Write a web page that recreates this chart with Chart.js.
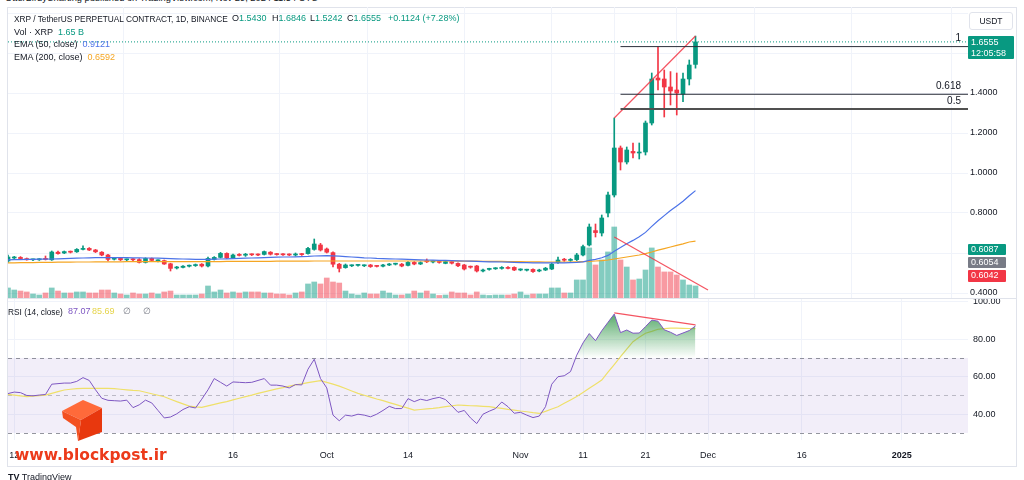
<!DOCTYPE html>
<html>
<head>
<meta charset="utf-8">
<title>XRP / TetherUS PERPETUAL CONTRACT, 1D</title>
<script src="https://cdn.jsdelivr.net/npm/chart.js@4.4.0/dist/chart.umd.min.js"></script>
<style>
  html, body { margin: 0; padding: 0; background: #fff; }
  body { position: relative; width: 1024px; height: 480px; overflow: hidden;
         font-family: "Liberation Sans", Arial, sans-serif; font-size: 9px; color: #131722; }
  canvas { position: absolute; left: 0; }
  #priceChart { top: 7px; }
  #rsiChart { top: 298px; }
  .abs { position: absolute; white-space: nowrap; }
  .frame { left: 7px; top: 7px; width: 1010px; height: 460px; border: 1px solid #e0e3eb; box-sizing: border-box; }
  .sep { left: 8px; top: 298px; width: 1008px; height: 1px; background: #e0e3eb; }
  .leg { left: 14px; line-height: 11px; }
  .g { color: #089981; }
  .tag { left: 968px; color: #fff; line-height: 11px; padding-left: 3px; box-sizing: border-box; border-radius: 1px; }
  .wm { left: 15px; top: 446px; font-family: "DejaVu Sans", Verdana, sans-serif; font-weight: bold; font-size: 15.5px; color: #ec3a1a; }
</style>
</head>
<body>
<div class="abs frame"></div>
<div class="abs" style="left:5px;top:-7px;font-size:9.3px;">OtterBirdyCharting published on TradingView.com, Nov 29, 2024 11:54 UTC</div>

<canvas id="priceChart" width="1016" height="291"></canvas>
<canvas id="rsiChart" width="1016" height="168"></canvas>
<div class="abs sep"></div>

<div class="abs leg" style="top:13.5px;font-size:8.3px">XRP / TetherUS PERPETUAL CONTRACT, 1D, BINANCE</div>
<div class="abs leg" style="left:232px;top:13px">O<span class="g">1.5430</span></div>
<div class="abs leg" style="left:272px;top:13px">H<span class="g">1.6846</span></div>
<div class="abs leg" style="left:310px;top:13px">L<span class="g">1.5242</span></div>
<div class="abs leg" style="left:347px;top:13px">C<span class="g">1.6555</span></div>
<div class="abs leg g" style="left:388px;top:13px">+0.1124 (+7.28%)</div>
<div class="abs leg" style="top:27px">Vol · XRP&nbsp;&nbsp;<span class="g">1.65 B</span></div>
<div class="abs leg" style="top:39px">EMA (50, close)&nbsp;&nbsp;<span style="color:#4c73e8">0.9121</span></div>
<div class="abs leg" style="top:51.5px">EMA (200, close)&nbsp;&nbsp;<span style="color:#f5a623">0.6592</span></div>
<div class="abs leg" style="left:8px;top:306.5px;font-size:8.3px">RSI (14, close)</div>
<div class="abs leg" style="left:68px;top:306px;color:#7e57c2">87.07</div>
<div class="abs leg" style="left:92px;top:306px;color:#e6d44a">85.69</div>
<div class="abs leg" style="left:123px;top:306px;color:#787b86">∅</div>
<div class="abs leg" style="left:143px;top:306px;color:#787b86">∅</div>

<div class="abs" style="left:969px;top:12px;width:44px;height:18px;border:1px solid #e0e3eb;border-radius:3px;box-sizing:border-box;text-align:center;line-height:16px;font-size:8.5px;">USDT</div>
<div class="abs tag" style="top:36px;width:46px;height:23px;background:#089981;padding-top:1px;">1.6555<br>12:05:58</div>
<div class="abs tag" style="top:244px;width:38px;height:11px;background:#089981;">0.6087</div>
<div class="abs tag" style="top:256.5px;width:38px;height:11.5px;background:#787b86;">0.6054</div>
<div class="abs tag" style="top:269.5px;width:38px;height:12px;background:#f23645;">0.6042</div>

<svg class="abs" style="left:0;top:0" width="1024" height="480">
  <polygon points="62,411 83,400 102,408 81,420" fill="#ff6a3a"/>
  <polygon points="81,420 102,408 102,432 78,441" fill="#e8380e"/>
  <polygon points="62,411 81,420 78,441 76,427 63,418" fill="#f35020"/>
</svg>
<div class="abs wm">www.blockpost.ir</div>
<div class="abs" style="left:8px;top:472px;font-size:9px;"><b>TV</b> TradingView</div>

<script>
// time axis: day index 0 = Aug 11 2024, 110 = Nov 29 2024
const tickDays = [1, 36, 51, 64, 82, 92, 102, 112, 127, 143];
const tickText = ['12', '16', 'Oct', '14', 'Nov', '11', '21', 'Dec', '16', '2025'];
const X_MAX = 153.6;

const opens = [
  .560,.575,.578,.572,.566,.566,.569,.566,.604,.600,
  .606,.606,.618,.623,.615,.604,.590,.569,.573,.566,
  .568,.567,.553,.573,.561,.562,.546,.525,.528,.534,
  .537,.544,.535,.568,.578,.598,.576,.593,.589,.592,
  .592,.593,.604,.594,.593,.592,.590,.594,.597,.618,
  .640,.620,.602,.544,.527,.536,.538,.536,.540,.535,
  .534,.540,.544,.544,.538,.553,.545,.558,.555,.557,
  .548,.557,.548,.540,.531,.535,.510,.518,.521,.523,
  .528,.528,.515,.514,.518,.510,.515,.520,.552,.566,
  .563,.567,.590,.640,.712,.700,.800,.890,1.125,1.055,
  1.108,1.100,1.105,1.25,1.475,1.47,1.43,1.415,1.395,1.47,1.543
];
const highs = [
  .590,.583,.582,.575,.570,.572,.585,.610,.609,.610,
  .610,.622,.636,.627,.618,.607,.593,.577,.576,.570,
  .572,.572,.576,.575,.566,.565,.549,.533,.537,.540,
  .545,.547,.580,.582,.603,.601,.594,.597,.598,.596,
  .596,.610,.607,.598,.597,.596,.600,.598,.628,.670,
  .648,.625,.606,.548,.545,.541,.543,.541,.543,.538,
  .543,.548,.549,.548,.557,.557,.556,.570,.561,.562,
  .561,.561,.551,.543,.535,.538,.520,.524,.527,.532,
  .532,.531,.521,.519,.521,.519,.528,.550,.580,.573,
  .572,.598,.640,.745,.745,.790,.905,1.275,1.135,1.13,
  1.15,1.15,1.26,1.50,1.63,1.515,1.507,1.50,1.50,1.565,1.6846
];
const lows = [
  .553,.572,.570,.564,.562,.563,.565,.563,.594,.597,
  .600,.603,.615,.612,.602,.586,.560,.565,.562,.560,
  .562,.550,.550,.560,.555,.543,.510,.520,.525,.530,
  .533,.530,.530,.565,.575,.572,.573,.585,.583,.587,
  .587,.590,.590,.589,.588,.587,.585,.588,.594,.614,
  .610,.600,.530,.505,.524,.532,.534,.532,.528,.530,
  .531,.537,.540,.531,.535,.541,.542,.552,.551,.549,
  .546,.545,.532,.515,.524,.505,.506,.514,.518,.519,
  .520,.512,.511,.510,.503,.506,.512,.517,.548,.558,
  .558,.562,.585,.635,.680,.685,.780,.880,1.015,1.045,
  1.075,1.07,1.09,1.24,1.415,1.28,1.34,1.29,1.357,1.44,1.5242
];
const closes = [
  .580,.580,.572,.566,.567,.569,.568,.605,.597,.607,
  .604,.618,.623,.615,.606,.590,.568,.573,.566,.567,
  .566,.553,.573,.563,.563,.545,.523,.530,.534,.537,
  .542,.535,.573,.578,.598,.576,.590,.588,.591,.591,
  .590,.607,.594,.592,.591,.590,.592,.592,.623,.645,
  .615,.604,.544,.523,.540,.538,.540,.538,.532,.533,
  .540,.545,.546,.535,.553,.545,.552,.556,.557,.553,
  .557,.549,.536,.520,.529,.510,.515,.520,.523,.528,
  .523,.515,.517,.515,.507,.515,.524,.544,.565,.564,
  .566,.590,.632,.730,.702,.775,.890,1.125,1.055,1.115,
  1.100,1.105,1.25,1.47,1.465,1.43,1.41,1.40,1.47,1.54,1.6555
];
// volume in billions XRP
const volumes = [
  1.38,1.10,.96,.83,.55,.41,.69,1.38,.96,.69,
  .69,.83,.83,.69,.69,1.10,1.10,.69,.55,.41,
  .69,.55,.55,.69,.55,.83,.96,.41,.41,.41,
  .41,.55,1.65,.83,1.10,.69,.83,.69,.83,.83,
  .83,.69,.69,.55,.55,.41,.69,.83,1.93,2.20,
  1.93,2.75,2.20,2.06,.96,.55,.41,.69,.55,.55,
  .96,.69,.41,.41,.55,.96,.69,.96,.55,.35,
  .41,.83,.69,.69,.41,.83,.41,.35,.41,.41,
  .41,.55,.83,.41,.55,.55,.55,1.38,1.38,.69,
  .69,2.48,2.48,6.88,4.54,5.23,6.33,9.76,5.23,4.26,
  2.48,2.61,3.85,6.88,4.26,3.58,3.58,3.16,2.48,1.79,1.65
];
const ema50 = [
  .566,.567,.567,.568,.568,.569,.569,.570,.571,.572,
  .573,.574,.575,.576,.577,.577,.577,.577,.577,.577,
  .576,.576,.575,.575,.574,.573,.572,.571,.570,.569,
  .568,.568,.568,.569,.570,.571,.572,.573,.574,.575,
  .576,.577,.578,.579,.580,.580,.581,.582,.583,.585,
  .586,.587,.586,.584,.582,.580,.578,.576,.575,.573,
  .572,.571,.570,.569,.568,.567,.566,.565,.564,.563,
  .563,.562,.561,.560,.559,.558,.557,.556,.556,.555,
  .554,.553,.552,.552,.551,.551,.551,.551,.551,.551,
  .552,.553,.556,.563,.568,.576,.588,.609,.627,.646,
  .663,.681,.703,.733,.761,.787,.812,.835,.859,.886,.912
];
const ema200 = [
  .551,.551,.552,.552,.552,.553,.553,.553,.554,.554,
  .554,.555,.555,.555,.556,.556,.556,.556,.556,.557,
  .557,.557,.557,.557,.557,.557,.557,.557,.557,.557,
  .557,.557,.557,.557,.557,.558,.558,.558,.558,.558,
  .558,.558,.558,.559,.559,.559,.559,.559,.559,.560,
  .560,.560,.560,.560,.560,.560,.560,.560,.560,.560,
  .560,.560,.560,.560,.560,.560,.560,.560,.560,.560,
  .560,.560,.559,.559,.559,.559,.558,.558,.558,.558,
  .557,.557,.557,.556,.556,.556,.555,.555,.555,.555,
  .555,.556,.557,.558,.560,.562,.565,.570,.575,.580,
  .585,.590,.597,.605,.614,.622,.630,.638,.646,.655,.659
];
const rsi = [
  51,51.8,51.5,50,49.8,50.2,50.5,56,56.3,56.6,
  56.6,57.5,59.5,58,53,48.5,47.4,47.2,47,47.5,
  43.5,45,47.5,46,42,38,38.5,40.2,42.5,44,
  43.3,48,53,59,57,55,57.2,57,56.8,57,
  58,59,55.5,55.5,55,54,55.8,55.6,64,69.3,
  59,54,39.5,36.5,39.5,39,40,39.5,38.6,40,
  42,44.2,43,43,48.3,46.7,48,47.3,48.3,49,
  47.8,44.5,41,42,38,35,40,41.6,43,46.5,
  44,40.5,41,39.5,38.2,39,44,56,60,60.5,
  62.7,71.5,78,83,79.2,84.5,89,93.4,83.5,84.9,
  83.2,83.3,86.7,90.2,89.6,85,83.7,82,83.3,84.6,87.07
];
const rsiMa = [
  50.6,50.2,49.8,49.4,49.6,49.9,50.2,51.1,52,52.9,
  53.3,53.6,53.8,53.8,53.8,53.8,53.8,53.6,53.3,53,
  52.7,52.5,51.7,50.9,50.1,49.3,48,46.7,45.5,44.3,
  43.9,43.6,44.4,45.2,46,46.7,47.6,48.5,49.4,50.2,
  51.1,51.9,52.7,53.5,54.2,55,55.6,56.2,56.8,57.4,
  57.9,57,56,55,53.7,52.4,51.1,50.1,49.1,48.1,
  47.2,46.2,45.2,44.2,43.2,42.2,42.5,42.8,43.1,43.5,
  44,44.4,44.9,44.7,44.5,44.4,44.2,44,43.5,43.1,
  42.6,42.2,41.7,41.3,40.8,40.4,41.5,42.8,44,45.8,
  47.6,49.4,51.6,53.8,56,58.2,62.4,66.5,70.7,74.7,
  78.7,81,83.2,84.2,85.3,85.6,85.9,85.9,85.8,85.7,85.69
];

// drawings
const fibLevels = [1, 0.618, 0.5];
const fibText = ['1', '0.618', '0.5'];
const fibHigh = 1.632, fibLow = 1.008, fibStartDay = 98;
const lastPrice = 1.6555;
const priceTrend = [[97, 1.275], [110, 1.685]];
const volTrend = [[97, 0.68], [112, 0.415]];
const rsiTrend = [[97, 94], [110, 87.6]];

const FONT = '"Liberation Sans", Arial, sans-serif';
Chart.defaults.font.family = FONT;
Chart.defaults.font.size = 9;
Chart.defaults.color = '#131722';

const UP = '#089981', DOWN = '#f23645';
const UP_VOL = 'rgba(8,153,129,0.5)', DOWN_VOL = 'rgba(242,54,69,0.5)';
const GRID = '#f0f3fa';
const days = opens.map((_, i) => i);
const isUp = (i) => closes[i] >= opens[i];
const series = (arr) => arr.map((v, i) => ({ x: i, y: v }));
const seg = (pts) => pts.map(([x, y]) => ({ x, y }));
const fibPrice = (lvl) => fibLow + lvl * (fibHigh - fibLow);

const lineDs = (data, color, width, extra) => Object.assign({
  type: 'line', data, borderColor: color, borderWidth: width,
  pointRadius: 0, tension: 0, fill: false
}, extra || {});

const xTicks = (s) => { s.ticks = tickDays.map((v) => ({ value: v })); };

const fibLabels = {
  id: 'fibLabels',
  afterDatasetsDraw(chart) {
    const { ctx, chartArea, scales: { y } } = chart;
    ctx.save();
    ctx.font = '10px ' + FONT;
    ctx.fillStyle = '#131722';
    ctx.textAlign = 'right';
    ctx.textBaseline = 'bottom';
    fibLevels.forEach((lvl, k) => {
      ctx.fillText(fibText[k], chartArea.right - 7, y.getPixelForValue(fibPrice(lvl)) - 3);
    });
    ctx.restore();
  }
};

new Chart(document.getElementById('priceChart'), {
  type: 'bar',
  data: {
    datasets: [
      ...fibLevels.map((lvl, k) => lineDs(
        [{ x: fibStartDay, y: fibPrice(lvl) }, { x: X_MAX, y: fibPrice(lvl) }],
        k === 2 ? '#505050' : '#2a2e39', k === 2 ? 2 : 1)),
      lineDs(seg(priceTrend), 'rgba(242,54,69,0.85)', 1.2),
      lineDs(seg(volTrend), 'rgba(242,54,69,0.85)', 1.2),
      lineDs([{ x: 0, y: lastPrice }, { x: X_MAX, y: lastPrice }], UP, 1, { borderDash: [1, 2] }),
      lineDs(series(ema50), '#4c73e8', 1.2),
      lineDs(series(ema200), '#f5a623', 1.2),
      {
        type: 'bar', grouped: false, barThickness: 4, minBarLength: 1, borderWidth: 0,
        data: days.map((i) => ({ x: i, y: [opens[i], closes[i]] })),
        backgroundColor: days.map((i) => isUp(i) ? UP : DOWN)
      },
      {
        type: 'bar', grouped: false, barThickness: 1, borderWidth: 0,
        data: days.map((i) => ({ x: i, y: [lows[i], highs[i]] })),
        backgroundColor: days.map((i) => isUp(i) ? UP : DOWN)
      },
      {
        type: 'bar', grouped: false, barThickness: 5, borderWidth: 0, yAxisID: 'yv',
        data: series(volumes),
        backgroundColor: days.map((i) => isUp(i) ? UP_VOL : DOWN_VOL)
      }
    ]
  },
  options: {
    responsive: false, animation: false, events: [],
    layout: { padding: { left: 8, right: 0, top: 0, bottom: 0 } },
    plugins: { legend: { display: false }, tooltip: { enabled: false } },
    scales: {
      x: {
        type: 'linear', min: 0, max: X_MAX, offset: false,
        afterBuildTicks: xTicks,
        afterFit: (s) => { s.height = 0; s.paddingLeft = 0; s.paddingRight = 0; },
        ticks: { display: false },
        grid: { color: GRID, drawTicks: false },
        border: { display: false }
      },
      y: {
        position: 'right', min: 0.375, max: 1.83,
        afterFit: (s) => { s.width = 48; s.paddingTop = 0; s.paddingBottom = 0; },
        ticks: {
          stepSize: 0.2, includeBounds: false, padding: 2,
          callback: (v) => (Math.abs(v - 1.8) < 1e-6 ? '' : Number(v).toFixed(4))
        },
        grid: { color: GRID, drawTicks: false },
        border: { display: false }
      },
      yv: { display: false, min: 0, max: 40 }
    }
  },
  plugins: [fibLabels]
});

const rsiBand = {
  id: 'rsiBand',
  beforeDatasetsDraw(chart) {
    const { ctx, chartArea: a, scales: { y } } = chart;
    const top = y.getPixelForValue(70), bot = y.getPixelForValue(30);
    ctx.save();
    ctx.fillStyle = 'rgba(126,87,194,0.1)';
    ctx.fillRect(a.left, top, a.right - a.left, bot - top);
    ctx.lineWidth = 1;
    ctx.setLineDash([4, 4]);
    [70, 50, 30].forEach((v) => {
      const py = Math.round(y.getPixelForValue(v)) + 0.5;
      ctx.strokeStyle = v === 50 ? 'rgba(120,123,134,0.45)' : 'rgba(120,123,134,0.8)';
      ctx.beginPath(); ctx.moveTo(a.left, py); ctx.lineTo(a.right, py); ctx.stroke();
    });
    ctx.restore();
  }
};

new Chart(document.getElementById('rsiChart'), {
  type: 'line',
  data: {
    datasets: [
      lineDs(seg(rsiTrend), 'rgba(242,54,69,0.85)', 1.2),
      lineDs(series(rsi), '#7e57c2', 1, {
        fill: { target: { value: 70 }, below: 'rgba(0,0,0,0)' },
        backgroundColor: (c) => {
          const ch = c.chart, y = ch.scales.y;
          if (!y || !ch.chartArea) return 'rgba(0,0,0,0)';
          const g = ch.ctx.createLinearGradient(0, y.getPixelForValue(95), 0, y.getPixelForValue(70));
          g.addColorStop(0, 'rgba(46,150,70,0.85)');
          g.addColorStop(1, 'rgba(46,150,70,0)');
          return g;
        }
      }),
      lineDs(series(rsiMa), '#efe06a', 1.2)
    ]
  },
  options: {
    responsive: false, animation: false, events: [],
    layout: { padding: { left: 8, right: 0, top: 0, bottom: 0 } },
    plugins: { legend: { display: false }, tooltip: { enabled: false } },
    scales: {
      x: {
        type: 'linear', min: 0, max: X_MAX, offset: false,
        afterBuildTicks: xTicks,
        afterFit: (s) => { s.height = 26; s.paddingLeft = 0; s.paddingRight = 0; },
        ticks: {
          autoSkip: false, maxRotation: 0, padding: 10,
          callback: (v) => tickText[tickDays.indexOf(v)] || '',
          font: (c) => ({ size: 9, family: FONT, weight: c.tick && c.tick.value === 143 ? 'bold' : 'normal' })
        },
        grid: { color: GRID, drawTicks: false },
        border: { display: false }
      },
      y: {
        position: 'right', min: 26.24, max: 101.97,
        afterFit: (s) => { s.width = 48; s.paddingTop = 0; s.paddingBottom = 0; },
        ticks: { stepSize: 20, includeBounds: false, padding: 5, callback: (v) => Number(v).toFixed(2) },
        grid: { color: GRID, drawTicks: false },
        border: { display: false }
      }
    }
  },
  plugins: [rsiBand]
});
</script>
</body>
</html>
